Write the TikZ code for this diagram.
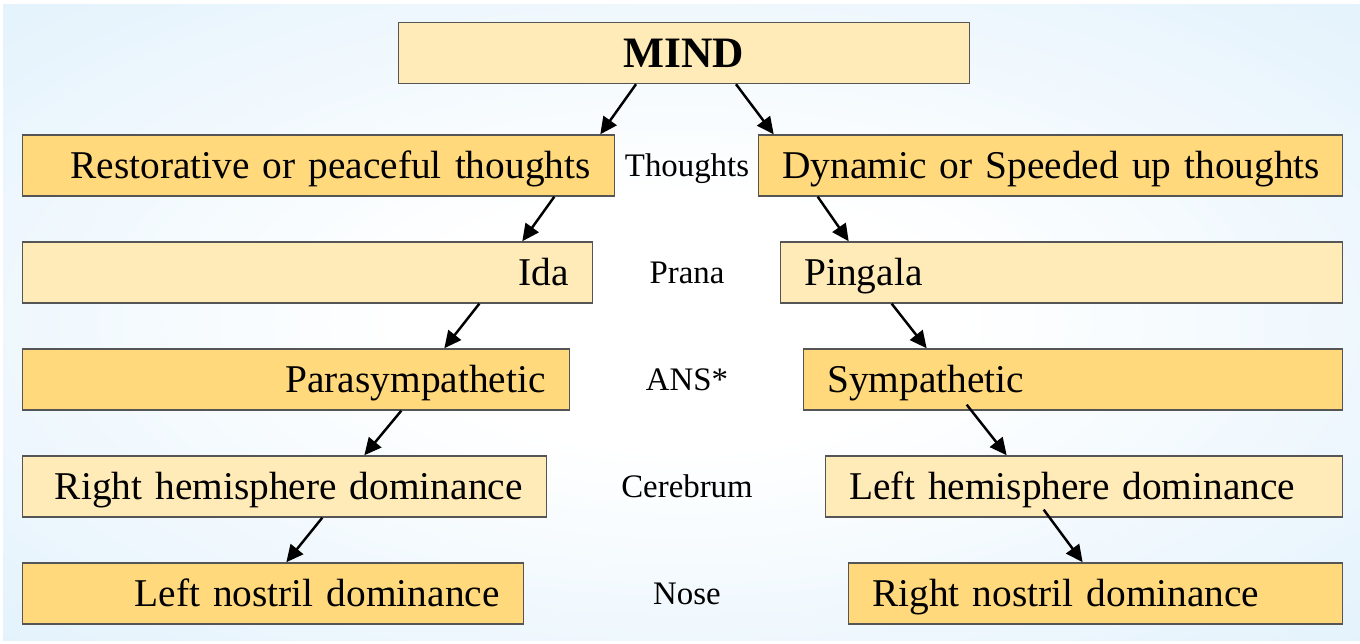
\documentclass[tikz,border=0pt]{standalone}
\usepackage{fontspec}
\setmainfont{Liberation Serif}
\usetikzlibrary{arrows.meta}
\definecolor{paleyellow}{HTML}{FFEBB7}
\definecolor{deepyellow}{HTML}{FFD97C}
\definecolor{boxedge}{HTML}{555555}
\definecolor{skyblue}{HTML}{DAEEFB}
\pgfdeclareradialshading{glow}{\pgfpoint{0bp}{0bp}}{color(0bp)=(white); color(10bp)=(white); color(44bp)=(skyblue); color(72bp)=(skyblue)}

\begin{document}
\begin{tikzpicture}[x=0.02cm, y=-0.02cm, node distance=2.14cm,
  box/.style = {draw=boxedge, line width=0.8pt, minimum height=1.22cm, inner xsep=0.48cm, inner ysep=0pt,
                text height=14.8pt, text depth=0pt, font=\fontsize{22.4}{26}\selectfont},
  lightbox/.style = {box, fill=paleyellow},
  darkbox/.style = {box, fill=deepyellow},
  leftcol/.style = {anchor=west, align=right},
  rightcol/.style = {anchor=east, align=left},
  side/.style = {text height=12.4pt, text depth=0pt, font=\fontsize{18.7}{22}\selectfont},
  arr/.style = {-{Triangle[length=0.34cm, width=0.32cm]}, line width=1.4pt}]
            \useasboundingbox (0,0) rectangle (1360,643);
            \shade[shading=glow] (3,4) rectangle (1360,640);

            \node[lightbox, minimum width=11.42cm, text height=16.4pt, font=\bfseries\fontsize{24.7}{28}\selectfont] (M) at (684,53) {MIND};

            % middle column
            \node[side] (T1) at (687,165.5) {Thoughts};
            \node[side] (T2) [below of=T1] {Prana};
            \node[side] (T3) [below of=T2] {ANS*};
            \node[side] (T4) [below of=T3] {Cerebrum};
            \node[side] (T5) [below of=T4] {Nose};

            % left column
            \node[darkbox, leftcol, text width=10.88cm] (L1) at (22,0 |- T1) {Restorative or peaceful thoughts};
            \node[lightbox, leftcol, text width=10.44cm] (L2) at (22,0 |- T2) {Ida};
            \node[darkbox, leftcol, text width=9.98cm] (L3) at (22,0 |- T3) {Parasympathetic};
            \node[lightbox, leftcol, text width=9.52cm] (L4) at (22,0 |- T4) {Right hemisphere dominance};
            \node[darkbox, leftcol, text width=9.06cm] (L5) at (22,0 |- T5) {Left nostril dominance};

            % right column
            \node[darkbox, rightcol, text width=10.72cm] (R1) at (1343,0 |- T1) {\mbox{Dynamic or Speeded up thoughts}};
            \node[lightbox, rightcol, text width=10.28cm] (R2) at (1343,0 |- T2) {Pingala};
            \node[darkbox, rightcol, text width=9.82cm] (R3) at (1343,0 |- T3) {Sympathetic};
            \node[lightbox, rightcol, text width=9.38cm] (R4) at (1343,0 |- T4) {Left hemisphere dominance};
            \node[darkbox, rightcol, text width=8.92cm] (R5) at (1343,0 |- T5) {Right nostril dominance};

            \path[arr] ([xshift=-0.96cm]M.south) edge ([xshift=-0.3cm]L1.north east);
            \path[arr] ([xshift=1.04cm]M.south) edge ([xshift=0.32cm]R1.north west);

            \path[arr] ([xshift=-1.22cm]L1.south east) edge ([xshift=-1.42cm]L2.north east);
            \path[arr] ([xshift=-2.28cm]L2.south east) edge ([xshift=-2.52cm]L3.north east);
            \path[arr] ([xshift=-3.38cm]L3.south east) edge ([xshift=-3.66cm]L4.north east);
            \path[arr] ([xshift=-4.5cm]L4.south east) edge ([xshift=-4.76cm]L5.north east);

            \path[arr] ([xshift=1.2cm]R1.south west) edge ([xshift=1.38cm]R2.north west);
            \path[arr] ([xshift=2.24cm]R2.south west) edge ([xshift=2.48cm]R3.north west);
            \path[arr] ([xshift=3.28cm, yshift=0.12cm]R3.south west) edge ([xshift=3.64cm]R4.north west);
            \path[arr] ([xshift=4.38cm, yshift=0.16cm]R4.south west) edge ([xshift=4.7cm]R5.north west);
\end{tikzpicture}
\end{document}
